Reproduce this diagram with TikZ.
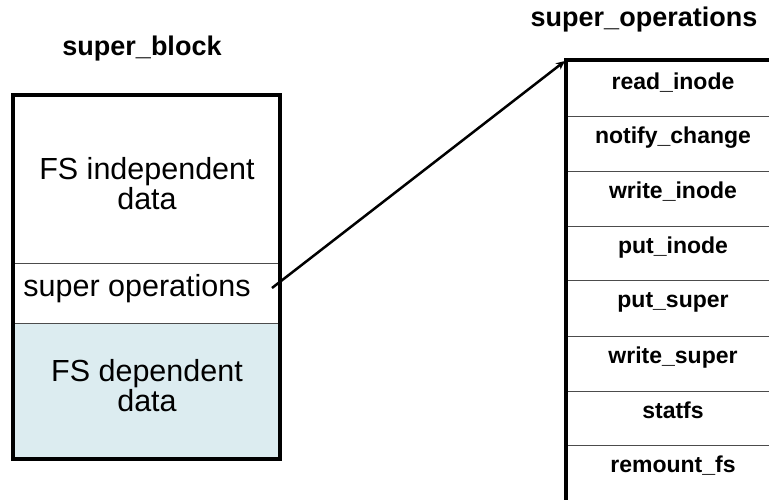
\documentclass[tikz,border=0pt]{standalone}
\usepackage{fontspec}
\setmainfont{Liberation Sans}
\usetikzlibrary{arrows.meta}
\definecolor{depfill}{RGB}{220,236,240}
\tikzset{
  heavy/.style={line width=3.2pt, line cap=rect},
  divider/.style={line width=0.9pt, draw=black!70},
  title/.style={font=\fontsize{27}{30}\selectfont\bfseries, inner sep=0pt},
  boxtext/.style={font=\fontsize{30.5}{30}\selectfont, align=center, inner sep=0pt},
  optext/.style={font=\fontsize{23}{26}\selectfont\bfseries, anchor=base, inner sep=0pt},
}
\begin{document}
\begin{tikzpicture}[x=1pt, y=-1pt]
  \useasboundingbox (0,0) rectangle (769,499);

  % super_block: three stacked regions
  \fill[depfill] (13,323) rectangle (280,459);
  \draw[divider] (13,263) -- (280,263);
  \draw[divider] (13,323) -- (280,323);
  \draw[heavy] (13,95) rectangle (280,459);

  \node[title, anchor=base] (sbtitle) at (142,55) {super\_block};
  \node[boxtext] (indep) at (147,184) {FS independent\\data};
  \node[boxtext] (sops) at (137,289) {super operations};
  \node[boxtext] (dep) at (147,386) {FS dependent\\data};

  % super_operations table (continues past the right edge)
  \node[title, anchor=base] (sotitle) at (644,26) {super\_operations};
  \foreach \yy in {116,171,226,280,336,391,445}
    \draw[divider] (566,\yy) -- (769,\yy);
  \draw[heavy] (566,499) -- (566,60) -- (769,60);
  \coordinate (tabtop) at (565,61);

  \node[optext] (op1) at (673,89)  {read\_inode};
  \node[optext] (op2) at (673,143) {notify\_change};
  \node[optext] (op3) at (673,198) {write\_inode};
  \node[optext] (op4) at (673,253) {put\_inode};
  \node[optext] (op5) at (673,307) {put\_super};
  \node[optext] (op6) at (673,363) {write\_super};
  \node[optext] (op7) at (673,418) {statfs};
  \node[optext] (op8) at (673,472) {remount\_fs};

  % pointer from the super operations field to the table
  \coordinate (sopsend) at (272,288);
  \draw[line width=2.5pt, -{Stealth[length=9pt,width=8pt]}] (sopsend) -- (tabtop);
\end{tikzpicture}
\end{document}
